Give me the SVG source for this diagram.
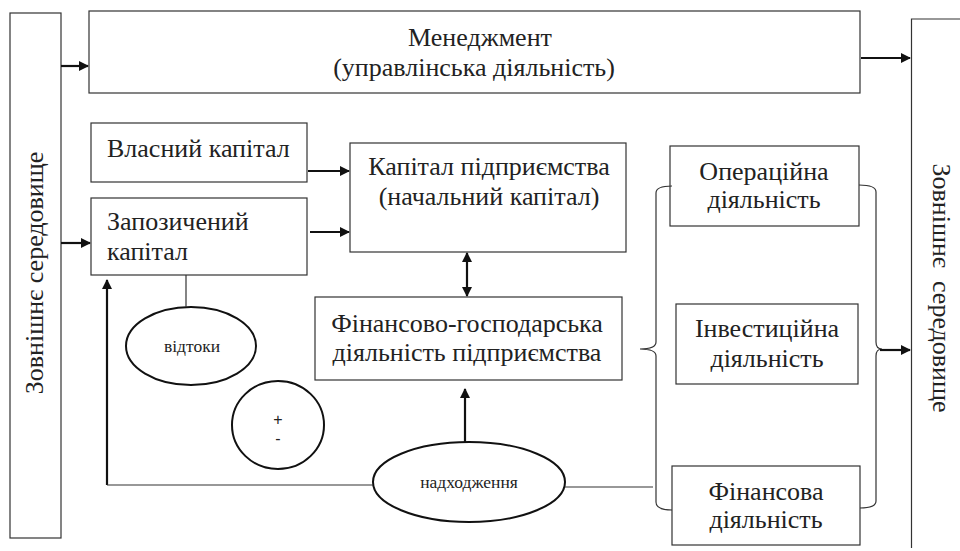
<svg xmlns="http://www.w3.org/2000/svg" width="960" height="551" viewBox="0 0 960 551" font-family="'Liberation Serif', 'Times New Roman', serif">
<defs>
<marker id="ah" markerWidth="10" markerHeight="10" refX="9" refY="5" orient="auto" markerUnits="userSpaceOnUse">
<path d="M0,0 L10,5 L0,10 Z" fill="#111"/>
</marker>
<marker id="ahs" markerWidth="10" markerHeight="10" refX="1" refY="5" orient="auto" markerUnits="userSpaceOnUse">
<path d="M10,0 L0,5 L10,10 Z" fill="#111"/>
</marker>
</defs>
<style>
.box{fill:#fff;stroke:#333;stroke-width:1.2}
.ell{fill:#fff;stroke:#111;stroke-width:2}
.t{font-family:'Liberation Serif','Times New Roman',serif;font-size:26px;fill:#222}
.s{font-family:'Liberation Serif','Times New Roman',serif;font-size:17.5px;fill:#222}
.pm{font-family:'Liberation Sans',Arial,sans-serif;font-size:16px;fill:#222}
.c{text-anchor:middle}
.arr{stroke:#111;stroke-width:2.2;fill:none}
.ln{stroke:#333;stroke-width:1.2;fill:none}
</style>
<rect width="960" height="551" fill="#fff"/>

<g id="env-left">
<rect class="box" x="10" y="13" width="51" height="525"/>
<text class="t c" transform="translate(43,273) rotate(-90)">Зовнішнє середовище</text>
</g>

<g id="env-right">
<path class="ln" d="M965,19 L911.5,19 L911.5,548"/>
<text class="t c" transform="translate(933,288) rotate(90)" style="white-space:pre">Зовнішнє  середовище</text>
</g>

<g id="management">
<rect class="box" x="89" y="11" width="771" height="82"/>
<text class="t c" x="480" y="46">Менеджмент</text>
<text class="t c" x="474" y="76">(управлінська діяльність)</text>
</g>

<g id="own-capital">
<rect class="box" x="91" y="123" width="216" height="59"/>
<text class="t" x="107" y="157">Власний капітал</text>
</g>

<g id="borrowed-capital">
<rect class="box" x="91" y="198" width="216" height="77"/>
<text class="t" x="107" y="230">Запозичений</text>
<text class="t" x="107" y="260">капітал</text>
</g>

<g id="enterprise-capital">
<rect class="box" x="350" y="143" width="276" height="109"/>
<text class="t c" x="489" y="175">Капітал підприємства</text>
<text class="t c" x="489" y="205">(начальний капітал)</text>
</g>

<g id="fin-activity">
<rect class="box" x="315" y="297" width="307" height="83"/>
<text class="t c" x="467" y="332">Фінансово-господарська</text>
<text class="t c" x="467" y="361">діяльність підприємства</text>
</g>

<g id="operating">
<rect class="box" x="670" y="146" width="189" height="80"/>
<text class="t c" x="764" y="180">Операційна</text>
<text class="t c" x="764" y="208">діяльність</text>
</g>

<g id="investing">
<rect class="box" x="676" y="304" width="182" height="80"/>
<text class="t c" x="767" y="337">Інвестиційна</text>
<text class="t c" x="767" y="367">діяльність</text>
</g>

<g id="financing">
<rect class="box" x="672" y="466" width="188" height="79"/>
<text class="t c" x="766" y="500">Фінансова</text>
<text class="t c" x="766" y="528">діяльність</text>
</g>

<g id="outflows">
<ellipse class="ell" cx="191" cy="346" rx="65" ry="39"/>
<text class="s c" x="192" y="352">відтоки</text>
</g>

<g id="plusminus">
<ellipse class="ell" cx="278" cy="425" rx="46" ry="44"/>
<text class="pm c" x="278" y="425">+</text>
<text class="pm c" x="278" y="444">-</text>
</g>

<g id="inflows">
<ellipse class="ell" cx="469" cy="482" rx="96" ry="40"/>
<text class="s c" x="469" y="488">надходження</text>
</g>

<g id="connectors">
<line class="arr" x1="61" y1="66" x2="88" y2="66" marker-end="url(#ah)"/>
<line class="arr" x1="61" y1="243" x2="90" y2="243" marker-end="url(#ah)"/>
<line class="arr" x1="861" y1="58" x2="910" y2="58" marker-end="url(#ah)"/>
<line class="arr" x1="308" y1="171" x2="349" y2="171" marker-end="url(#ah)"/>
<line class="arr" x1="310" y1="232" x2="349" y2="232" marker-end="url(#ah)"/>
<line class="arr" x1="467" y1="253" x2="467" y2="296" marker-start="url(#ahs)" marker-end="url(#ah)"/>
<line class="arr" x1="465" y1="442" x2="465" y2="389" marker-end="url(#ah)"/>
<polyline class="arr" points="107,485 107,280" marker-end="url(#ah)"/>
<line class="ln" x1="107" y1="485" x2="373" y2="485"/>
<line class="ln" x1="565" y1="487" x2="653" y2="487"/>
<line class="ln" x1="186" y1="275" x2="186" y2="307"/>
<path class="ln" d="M672,186 Q656,186 656,193 L656,342 Q656,349 640,349 Q656,349 656,356 L656,502 Q656,510 672,510"/>
<path class="ln" d="M859,185 Q876,185 876,192 L876,342 Q876,349 882,349 Q876,349 876,356 L876,501 Q876,508 860,508"/>
<line class="arr" x1="880" y1="350" x2="910" y2="350" marker-end="url(#ah)"/>
</g>
</svg>
